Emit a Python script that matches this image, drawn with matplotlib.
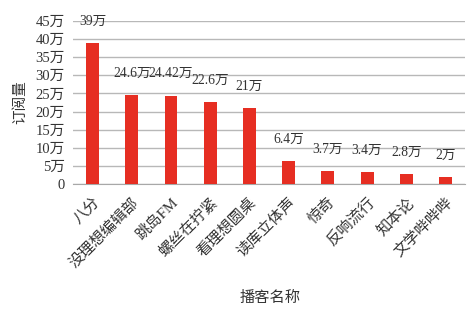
import matplotlib
matplotlib.use("Agg")
import matplotlib.pyplot as plt

categories = ["八分", "没理想编辑部", "跳岛FM", "螺丝在拧紧", "看理想圆桌", "读库立体声", "惊奇", "反响流行", "知本论", "文学哔哔哔"]
values = [39, 24.6, 24.42, 22.6, 21, 6.4, 3.7, 3.4, 2.8, 2]
labels = ["39万", "24.6万", "24.42万", "22.6万", "21万", "6.4万", "3.7万", "3.4万", "2.8万", "2万"]
yticks = [0, 5, 10, 15, 20, 25, 30, 35, 40, 45]
ytick_labels = ["0", "5万", "10万", "15万", "20万", "25万", "30万", "35万", "40万", "45万"]

plt.rcParams['font.family'] = ['Liberation Serif', 'Noto Sans CJK SC', 'DejaVu Sans']

fig = plt.figure(figsize=(4.77, 3.13), dpi=100)
ax = fig.add_axes([0.153, 0.412, 0.822, 0.521])
x = list(range(len(categories)))
ax.bar(x, values, width=0.33, color="#e62e22", zorder=3)
for xi, v, lab in zip(x, values, labels):
    ax.text(xi, v + 6, lab, ha="center", va="center", fontsize=9.8, color="#333333", zorder=4)
ax.set_xlim(-0.5, len(categories) - 0.5)
ax.set_ylim(0, 45)
ax.set_yticks(yticks)
ax.set_yticklabels(ytick_labels, fontsize=10.5, color="#333333")
ax.set_xticks(x)
ax.set_xticklabels(categories, rotation=45, ha="right", rotation_mode="anchor", fontsize=11, color="#333333")
ax.tick_params(axis="x", length=0, pad=8)
ax.tick_params(axis="y", length=0, pad=6)
ax.yaxis.grid(True, color="#b8b8b8", linewidth=1, zorder=0)
for s in ["left", "right", "top"]:
    ax.spines[s].set_visible(False)
ax.spines["bottom"].set_color("#a8a8a8")
ax.set_ylabel("订阅量", fontsize=10.5, color="#333333", labelpad=6)
fig.text(0.566, 0.048, "播客名称", ha="center", va="center", fontsize=11, color="#333333")
fig.savefig("out.png", dpi=100)
